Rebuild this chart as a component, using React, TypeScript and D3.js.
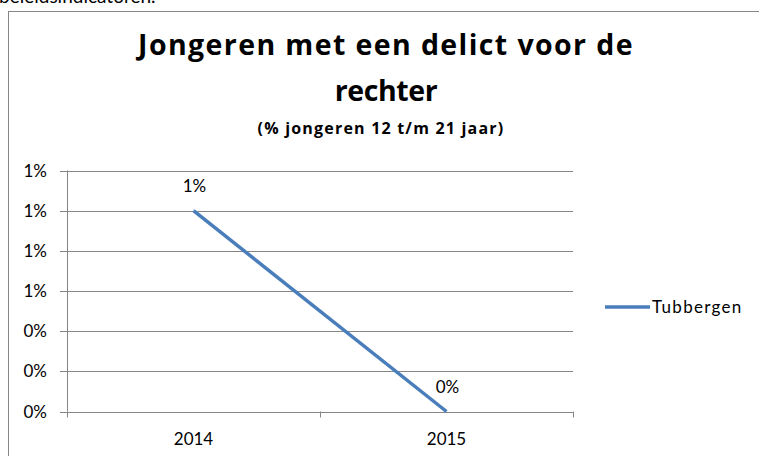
import React from "react";
import { scaleLinear, scalePoint, line, format, range } from "d3";

// data
const years = ["2014", "2015"];
const tubbergen = [0.01, 0];
const seriesName = "Tubbergen";
const yTicks = range(0, 0.0121, 0.002);
const titleLines = ["Jongeren met een delict voor de", "rechter"];
const subtitle = "(% jongeren 12 t/m 21 jaar)";

export default function App() {
  const width = 759,
    height = 456;
  const plotLeft = 67,
    plotRight = 573,
    plotTop = 170.5,
    plotBottom = 411.5;
  const font = "Lato, 'Open Sans', sans-serif";
  const titleFont = "'Open Sans', Lato, sans-serif";
  const grid = "#868686";
  const blue = "#4a7ebb";

  const xScale = scalePoint<string>()
    .domain(years)
    .range([plotLeft, plotRight])
    .padding(0.5);
  const yScale = scaleLinear().domain([0, 0.012]).range([plotBottom, plotTop]);
  const pct = format(".0%");

  const step = xScale.step();
  const xTicks = [0, 1, 2].map(i => plotLeft + i * step);

  const path = line<number>()
    .x((d, i) => xScale(years[i]) as number)
    .y(d => yScale(d))(tubbergen);

  return (
    <svg
      width={width}
      height={height}
      style={{ position: "absolute", left: 0, top: 0, background: "#fff" }}
      fontFamily={font}
    >
      <text x={-1} y={3} fontSize={19} fill="#000">
        beleidsindicatoren.
      </text>
      <rect x={8.5} y={11.5} width={800} height={500} fill="#fff" stroke={grid} />

      {titleLines.map((t, i) => (
        <text
          key={t}
          x={386}
          y={55 + i * 46}
          textAnchor="middle"
          fontFamily={titleFont}
          fontSize={28.5}
          fontWeight={700}
          letterSpacing={i === 0 ? 1.4 : -0.4}
          fill="#000"
        >
          {t}
        </text>
      ))}
      <text
        x={381}
        y={134}
        textAnchor="middle"
        fontFamily={titleFont}
        fontSize={16}
        fontWeight={700}
        letterSpacing={1.2}
        fill="#000"
      >
        {subtitle}
      </text>

      {yTicks.map(t => (
        <g key={t}>
          <line
            x1={plotLeft - 7}
            x2={plotRight}
            y1={Math.round(yScale(t)) + 0.5}
            y2={Math.round(yScale(t)) + 0.5}
            stroke={grid}
          />
          <text
            x={47}
            y={yScale(t) + 6}
            textAnchor="end"
            fontSize={17}
            fill="#000"
          >
            {pct(t)}
          </text>
        </g>
      ))}
      <line x1={plotLeft + 0.5} x2={plotLeft + 0.5} y1={plotTop} y2={plotBottom} stroke={grid} />
      {xTicks.map(x => (
        <line
          key={x}
          x1={Math.round(x) + 0.5}
          x2={Math.round(x) + 0.5}
          y1={plotBottom}
          y2={plotBottom + 6}
          stroke={grid}
        />
      ))}
      {years.map(y => (
        <text
          key={y}
          x={xScale(y)}
          y={445}
          textAnchor="middle"
          fontSize={17}
          fill="#000"
        >
          {y}
        </text>
      ))}

      <path d={path ?? ""} fill="none" stroke={blue} strokeWidth={3.5} />
      {tubbergen.map((v, i) => (
        <text
          key={i}
          x={(xScale(years[i]) as number) + 1}
          y={yScale(v) - 19}
          textAnchor="middle"
          fontSize={17}
          fill="#000"
        >
          {pct(v)}
        </text>
      ))}

      <line x1={605} x2={650} y1={307} y2={307} stroke={blue} strokeWidth={3.5} />
      <text x={652} y={313} fontSize={17} letterSpacing={1.3} fill="#000">
        {seriesName}
      </text>
    </svg>
  );
}
